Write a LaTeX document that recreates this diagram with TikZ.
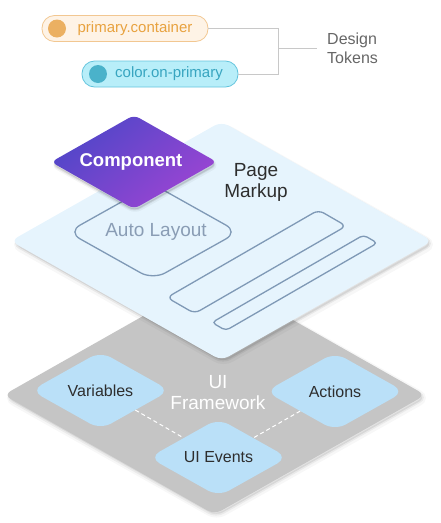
\documentclass[tikz,border=0pt]{standalone}
\usepackage{fontspec}
\setmainfont{Liberation Sans}
\usetikzlibrary{shapes.geometric}
\definecolor{plateblue}{HTML}{E6F4FD}
\definecolor{plategray}{HTML}{C5C5C5}
\definecolor{tileblue}{HTML}{BAE0F8}
\definecolor{outline}{HTML}{7F99B6}
\definecolor{outlinetext}{HTML}{8A9DB5}
\definecolor{compA}{HTML}{4F46C8}
\definecolor{compB}{HTML}{9C45D3}
\definecolor{pillOfill}{HTML}{FEF3E6}
\definecolor{pillOdraw}{HTML}{F2C791}
\definecolor{pillOdot}{HTML}{EBB062}
\definecolor{pillOtext}{HTML}{E8A23F}
\definecolor{pillCfill}{HTML}{B8EEF9}
\definecolor{pillCdraw}{HTML}{63C4DD}
\definecolor{pillCdot}{HTML}{4AB2CA}
\definecolor{pillCtext}{HTML}{38A5C0}
\definecolor{bracket}{HTML}{C8C8C8}
\definecolor{tokentext}{HTML}{666666}
\definecolor{darktext}{HTML}{2E2E2E}
\begin{document}
\begin{tikzpicture}[x=1pt,y=-1pt,
  iso/.style={shape=diamond, aspect=1.732, inner sep=0pt},
  plate/.style={iso, minimum width=422pt, minimum height=239pt, rounded corners=8pt},
  tile/.style={iso, minimum width=139pt, minimum height=78pt, fill=tileblue,
    rounded corners=12pt, font=\fontsize{16}{19}\selectfont, text=darktext},
  shadowlayer/.style={fill=black, draw=black, fill opacity=#1, draw opacity=#1},
  barline/.style={draw=outline, line width=1.3pt},
  pill/.style={rectangle, rounded corners=12.5pt, minimum height=26pt, inner sep=0pt, line width=0.8pt},
  dot/.style={circle, minimum size=18pt, inner sep=0pt},
  pilltext/.style={inner sep=0pt, font=\fontsize{15}{18}\selectfont},
  link/.style={draw=white, line width=1pt, dash pattern=on 4pt off 3pt},
  bigtext/.style={align=center, font=\fontsize{19}{21}\selectfont},
  compshape/.style={iso, minimum width=166pt, minimum height=94pt, rounded corners=6pt}
]
\useasboundingbox (0,0) rectangle (440,523);

% ---------- Design tokens ----------
\node[pill, fill=pillOfill, draw=pillOdraw, minimum width=166pt] (pillA) at (125,28.5) {};
\node[dot, fill=pillOdot] (dotA) at (57,28.5) {};
\node[pilltext, text=pillOtext] (txtA) at (135,28.5) {primary.container};
\node[pill, fill=pillCfill, draw=pillCdraw, minimum width=156pt] (pillB) at (160,74) {};
\node[dot, fill=pillCdot] (dotB) at (98,74) {};
\node[pilltext, text=pillCtext] (txtB) at (169,74) {color.on-primary};
\node[anchor=west, inner xsep=10pt, inner ysep=0pt, align=left, text=tokentext,
      font=\fontsize{16}{19}\selectfont] (tokens) at (317,48) {Design\\Tokens};
\coordinate (bjA) at (278,28.5);
\coordinate (bjB) at (278,74);
\coordinate (bj) at (278,48);
\draw[bracket, line width=1pt] (pillA.east) -- (bjA) -- (bjB) -- (pillB.east);
\draw[bracket, line width=1pt] (bj) -- (tokens.west);

% ---------- UI Framework plate ----------
\node[plate, shadowlayer=0.03, line width=8pt] (gsh1) at (216.5,398) {};
\node[plate, shadowlayer=0.05, line width=3pt] (gsh2) at (216,397.5) {};
\node[plate, fill=plategray] (uifw) at (214.5,395) {};
\node[tile] (vars) at (100.5,390.5) {Variables};
\node[tile] (acts) at (335,391.5) {Actions};
\node[tile] (events) at (218.5,457.5) {UI Events};
\draw[link] (vars.south east) -- (events.north west);
\draw[link] (acts.south west) -- (events.north east);
\node[bigtext, text=white] (uifwlabel) at (218,392.5) {UI\\Framework};

% ---------- Page Markup plate ----------
\node[plate, shadowlayer=0.03, line width=8pt] (bsh1) at (223.5,244.5) {};
\node[plate, shadowlayer=0.06, line width=3pt] (bsh2) at (223,243.5) {};
\node[plate, fill=plateblue] (page) at (221.5,241) {};

\node[iso, draw=outline, line width=1.3pt, rounded corners=14pt,
      minimum width=171pt, minimum height=96pt, text=outlinetext,
      font=\fontsize{19}{21}\selectfont] (auto) at (153,232) {\hspace*{6pt}\raisebox{-3pt}{Auto Layout}};

\begin{scope}[shift={(221.5pt,-241pt)}, x={(0.866pt,0.5pt)}, y={(0.866pt,-0.5pt)}]
  \draw[barline, rounded corners=6pt] (-88,25) -- (87,25) -- (87,57) -- (-88,57) -- cycle;
  \draw[barline, rounded corners=4pt] (-87,76) -- (88,76) -- (88,92) -- (-87,92) -- cycle;
\end{scope}

\node[bigtext, text=darktext] (pagelabel) at (256,182) {Page\\Markup};

% ---------- Component ----------
\node[compshape, shadowlayer=0.04, line width=5pt] (csh1) at (135,165) {};
\node[compshape, shadowlayer=0.07, line width=2pt] (csh2) at (134.5,164.5) {};
\node[compshape, top color=compA, bottom color=compB, shading angle=40,
      text=white, font=\fontsize{18.5}{21}\selectfont\bfseries] (comp) at (134,162)
      {\raisebox{1pt}{Component}\hspace*{6pt}};
\end{tikzpicture}
\end{document}
